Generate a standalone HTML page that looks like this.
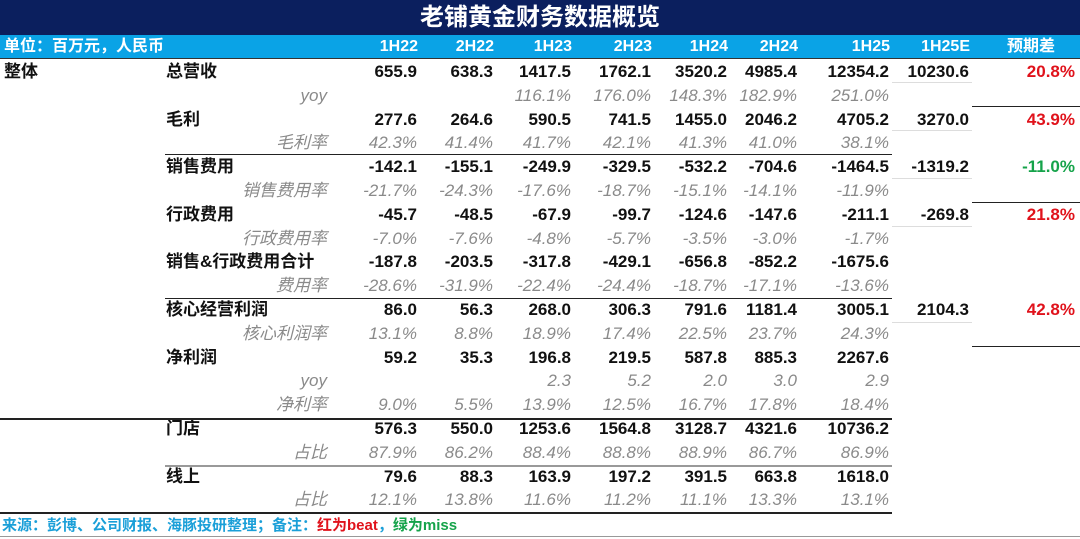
<!DOCTYPE html>
<html><head><meta charset="utf-8"><style>
body{margin:0;width:1080px;height:539px;background:#fff;overflow:hidden;font-family:"Liberation Sans","Noto Sans CJK SC",sans-serif;position:relative}
.title{position:absolute;left:0;top:0;width:1080px;height:35px;background:#0b1f5e;color:#fff;font-weight:bold;font-size:24px;text-align:center;line-height:35px}
.hdr{position:absolute;left:0;top:35px;width:1080px;height:23px;background:#0aa3e6;color:#fff;font-weight:bold;font-size:16px;line-height:23px}
table{position:absolute;left:0;top:60px;border-collapse:collapse;table-layout:fixed}
td{height:23.8px;padding:0 3px 0 0;font-size:17px;white-space:nowrap;text-align:right;line-height:23.8px}
td.a{text-align:left;padding-left:4px;font-weight:bold}
td.b{text-align:left;padding-left:6px;font-weight:bold}
tr.m td{font-weight:bold;color:#111}
tr.s td{font-style:italic;color:#8a8a8a;font-weight:normal}
.r{color:#e0121b!important}.g{color:#15a34a!important}
.ln{position:absolute;height:1px;background:#222}
.foot{position:absolute;left:2px;top:514px;font-size:15px;font-weight:bold;color:#1a9fd8}
</style></head><body>
<div class="title">老铺黄金财务数据概览</div>
<div class="hdr"><span style="position:absolute;left:4px">单位：百万元，人民币</span>
<span style="position:absolute;right:662px">1H22</span><span style="position:absolute;right:586px">2H22</span><span style="position:absolute;right:508px">1H23</span><span style="position:absolute;right:428px">2H23</span><span style="position:absolute;right:352px">1H24</span><span style="position:absolute;right:282px">2H24</span><span style="position:absolute;right:190px">1H25</span><span style="position:absolute;right:110px">1H25E</span><span style="position:absolute;right:25px">预期差</span></div>
<table>
<colgroup><col style="width:160px"><col style="width:170px"><col style="width:90px"><col style="width:76px"><col style="width:78px"><col style="width:80px"><col style="width:76px"><col style="width:70px"><col style="width:92px"><col style="width:80px"><col style="width:106px"></colgroup>
<tr class="m"><td class="a">整体</td><td class="b">总营收</td><td>655.9</td><td>638.3</td><td>1417.5</td><td>1762.1</td><td>3520.2</td><td>4985.4</td><td>12354.2</td><td>10230.6</td><td class="r">20.8%</td></tr>
<tr class="s"><td></td><td>yoy</td><td></td><td></td><td>116.1%</td><td>176.0%</td><td>148.3%</td><td>182.9%</td><td>251.0%</td><td></td><td></td></tr>
<tr class="m"><td></td><td class="b">毛利</td><td>277.6</td><td>264.6</td><td>590.5</td><td>741.5</td><td>1455.0</td><td>2046.2</td><td>4705.2</td><td>3270.0</td><td class="r">43.9%</td></tr>
<tr class="s"><td></td><td>毛利率</td><td>42.3%</td><td>41.4%</td><td>41.7%</td><td>42.1%</td><td>41.3%</td><td>41.0%</td><td>38.1%</td><td></td><td></td></tr>
<tr class="m"><td></td><td class="b">销售费用</td><td>-142.1</td><td>-155.1</td><td>-249.9</td><td>-329.5</td><td>-532.2</td><td>-704.6</td><td>-1464.5</td><td>-1319.2</td><td class="g">-11.0%</td></tr>
<tr class="s"><td></td><td>销售费用率</td><td>-21.7%</td><td>-24.3%</td><td>-17.6%</td><td>-18.7%</td><td>-15.1%</td><td>-14.1%</td><td>-11.9%</td><td></td><td></td></tr>
<tr class="m"><td></td><td class="b">行政费用</td><td>-45.7</td><td>-48.5</td><td>-67.9</td><td>-99.7</td><td>-124.6</td><td>-147.6</td><td>-211.1</td><td>-269.8</td><td class="r">21.8%</td></tr>
<tr class="s"><td></td><td>行政费用率</td><td>-7.0%</td><td>-7.6%</td><td>-4.8%</td><td>-5.7%</td><td>-3.5%</td><td>-3.0%</td><td>-1.7%</td><td></td><td></td></tr>
<tr class="m"><td></td><td class="b">销售&amp;行政费用合计</td><td>-187.8</td><td>-203.5</td><td>-317.8</td><td>-429.1</td><td>-656.8</td><td>-852.2</td><td>-1675.6</td><td></td><td></td></tr>
<tr class="s"><td></td><td>费用率</td><td>-28.6%</td><td>-31.9%</td><td>-22.4%</td><td>-24.4%</td><td>-18.7%</td><td>-17.1%</td><td>-13.6%</td><td></td><td></td></tr>
<tr class="m"><td></td><td class="b">核心经营利润</td><td>86.0</td><td>56.3</td><td>268.0</td><td>306.3</td><td>791.6</td><td>1181.4</td><td>3005.1</td><td>2104.3</td><td class="r">42.8%</td></tr>
<tr class="s"><td></td><td>核心利润率</td><td>13.1%</td><td>8.8%</td><td>18.9%</td><td>17.4%</td><td>22.5%</td><td>23.7%</td><td>24.3%</td><td></td><td></td></tr>
<tr class="m"><td></td><td class="b">净利润</td><td>59.2</td><td>35.3</td><td>196.8</td><td>219.5</td><td>587.8</td><td>885.3</td><td>2267.6</td><td></td><td></td></tr>
<tr class="s"><td></td><td>yoy</td><td></td><td></td><td>2.3</td><td>5.2</td><td>2.0</td><td>3.0</td><td>2.9</td><td></td><td></td></tr>
<tr class="s"><td></td><td>净利率</td><td>9.0%</td><td>5.5%</td><td>13.9%</td><td>12.5%</td><td>16.7%</td><td>17.8%</td><td>18.4%</td><td></td><td></td></tr>
<tr class="m"><td></td><td class="b">门店</td><td>576.3</td><td>550.0</td><td>1253.6</td><td>1564.8</td><td>3128.7</td><td>4321.6</td><td>10736.2</td><td></td><td></td></tr>
<tr class="s"><td></td><td>占比</td><td>87.9%</td><td>86.2%</td><td>88.4%</td><td>88.8%</td><td>88.9%</td><td>86.7%</td><td>86.9%</td><td></td><td></td></tr>
<tr class="m"><td></td><td class="b">线上</td><td>79.6</td><td>88.3</td><td>163.9</td><td>197.2</td><td>391.5</td><td>663.8</td><td>1618.0</td><td></td><td></td></tr>
<tr class="s"><td></td><td>占比</td><td>12.1%</td><td>13.8%</td><td>11.6%</td><td>11.2%</td><td>11.1%</td><td>13.3%</td><td>13.1%</td><td></td><td></td></tr>
</table>
<div class="ln" style="left:0;top:58px;width:1080px;background:#333"></div>
<div class="ln" style="left:892px;top:82px;width:80px;background:#ddd"></div>
<div class="ln" style="left:892px;top:130px;width:80px;background:#ddd"></div>
<div class="ln" style="left:892px;top:178px;width:80px;background:#ddd"></div>
<div class="ln" style="left:892px;top:226px;width:80px;background:#ddd"></div>
<div class="ln" style="left:892px;top:322px;width:80px;background:#ddd"></div>
<div class="ln" style="left:972px;top:106px;width:108px"></div>
<div class="ln" style="left:165px;top:154px;width:727px"></div>
<div class="ln" style="left:972px;top:202px;width:108px"></div>
<div class="ln" style="left:165px;top:298px;width:727px"></div>
<div class="ln" style="left:972px;top:346px;width:108px"></div>
<div class="ln" style="left:0;top:418px;width:892px;height:2px"></div>
<div class="ln" style="left:165px;top:465px;width:727px;background:#999;height:2px"></div>
<div class="ln" style="left:0;top:512px;width:892px;height:2px"></div>
<div class="ln" style="left:0;top:536px;width:1080px;background:#999"></div>
<div class="foot">来源：彭博、公司财报、海豚投研整理；备注：<span style="color:#e0121b">红为beat</span>，<span style="color:#15a34a">绿为miss</span></div>
</body></html>
